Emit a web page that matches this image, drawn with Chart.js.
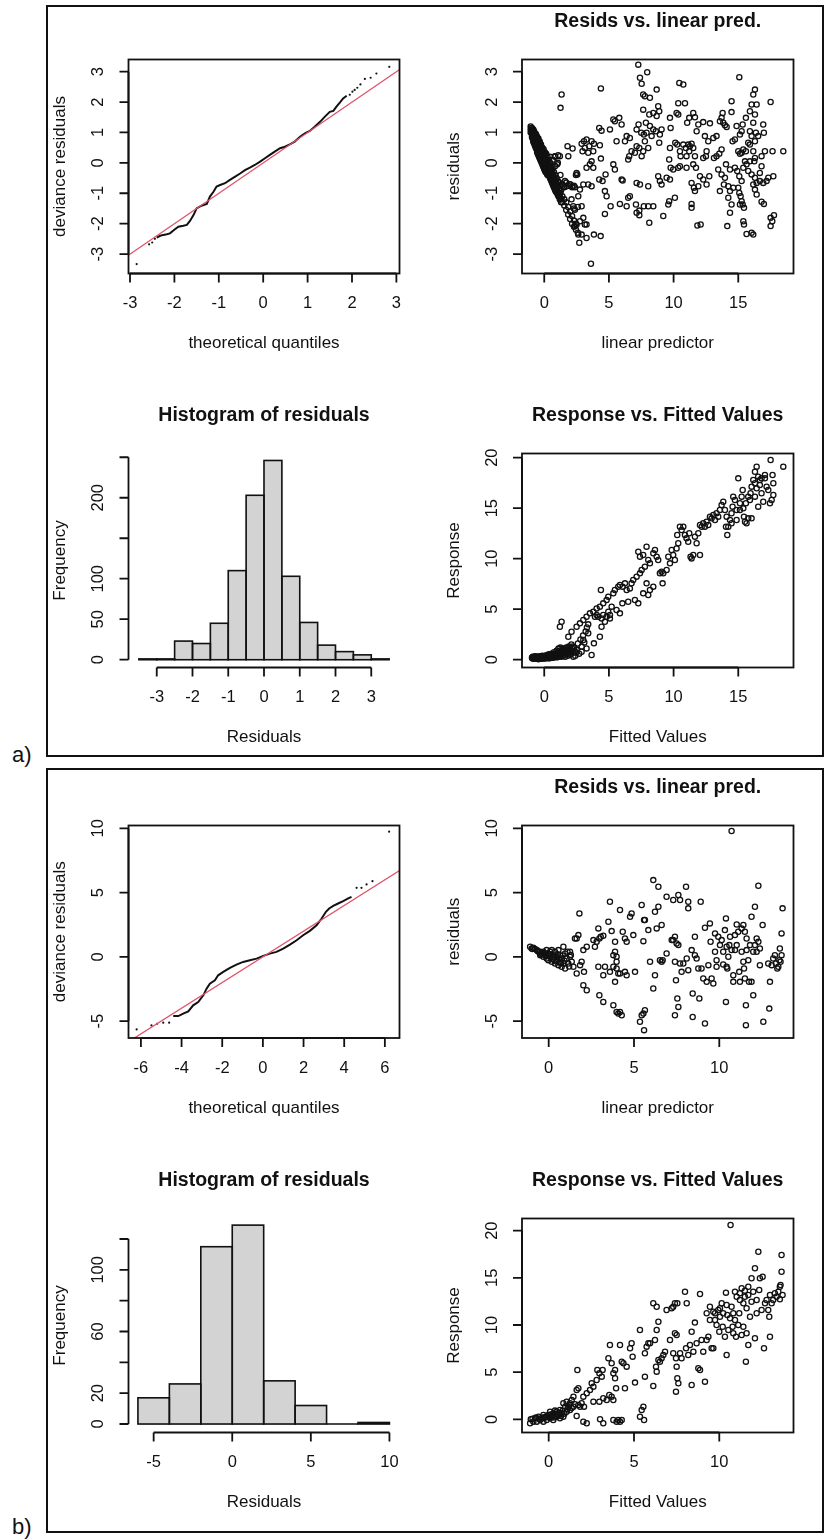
<!DOCTYPE html>
<html>
<head>
<meta charset="utf-8">
<title>gam.check residual plots</title>
<script src="https://cdn.jsdelivr.net/npm/chart.js@4.4.1/dist/chart.umd.min.js"></script>
<style>
  html, body { margin: 0; padding: 0; background: #fff; }
  #page { position: relative; width: 824px; height: 1540px; overflow: hidden; }
  #page canvas { position: absolute; left: 0; top: 0; }
  .frame { position: absolute; border: 2px solid #111; box-sizing: border-box; }
  .tag { position: absolute; font: 22px "Liberation Sans", Arial, sans-serif; color: #111; line-height: 22px; }
</style>
</head>
<body>
<div id="page">
  <div class="frame" style="left:46px; top:5px; width:778px; height:752px;"></div>
  <div class="frame" style="left:46px; top:768px; width:778px; height:765px;"></div>
  <div class="tag" style="left:12px; top:744px;">a)</div>
  <div class="tag" style="left:12px; top:1516px;">b)</div>
  <canvas id="a1" width="824" height="1540"></canvas>
  <canvas id="a2" width="824" height="1540"></canvas>
  <canvas id="a3" width="824" height="1540"></canvas>
  <canvas id="a4" width="824" height="1540"></canvas>
  <canvas id="b1" width="824" height="1540"></canvas>
  <canvas id="b2" width="824" height="1540"></canvas>
  <canvas id="b3" width="824" height="1540"></canvas>
  <canvas id="b4" width="824" height="1540"></canvas>
</div>
<script>
/* ---------- data ---------- */

// a) QQ plot: sorted deviance residuals vs theoretical quantiles
const qqBodyA = [[-2.4,-2.46],[-2.32,-2.4],[-2.25,-2.37],[-2.17,-2.35],[-2.1,-2.32],[-2.01,-2.21],[-1.91,-2.1],[-1.8,-2.07],
  [-1.72,-2.04],[-1.65,-1.91],[-1.57,-1.72],[-1.5,-1.5],[-1.39,-1.41],[-1.27,-1.35],[-1.2,-1.11],[-1.12,-0.95],[-1.05,-0.78],
  [-0.97,-0.73],[-0.86,-0.67],[-0.75,-0.56],[-0.64,-0.46],[-0.52,-0.35],[-0.41,-0.24],[-0.3,-0.16],[-0.19,-0.07],[-0.07,0.04],
  [0.04,0.15],[0.15,0.26],[0.26,0.37],[0.38,0.48],[0.49,0.53],[0.6,0.61],[0.71,0.7],[0.83,0.86],[0.94,0.97],[1.05,1.05],
  [1.16,1.19],[1.28,1.35],[1.39,1.52],[1.5,1.68],[1.58,1.71],[1.65,1.85],[1.73,1.99],[1.8,2.12],[1.88,2.21]];
const qqTailA = [[-2.85,-3.33],[-2.57,-2.68],[-2.5,-2.62],[-2.44,-2.5],[1.95,2.24],[2.01,2.34],[2.06,2.4],[2.12,2.47],
  [2.19,2.58],[2.29,2.76],[2.42,2.8],[2.55,2.94],[2.84,3.16]];
const qqRefA = [[-4, -4], [4, 4]];
const qqXTicksA = [-3, -2, -1, 0, 1, 2, 3];
const qqYTicksA = [-3, -2, -1, 0, 1, 2, 3];

// a) residuals vs linear predictor
const residA = [
  [-1.05,1.2],[-1.05,1.1],[-1.05,1.0],[-0.95,1.15],[-0.95,1.05],[-0.95,0.95],[-0.95,0.85],
  [-0.85,1.1],[-0.85,1.0],[-0.85,0.9],[-0.85,0.8],[-0.85,0.7],[-0.75,1.0],[-0.75,0.9],[-0.75,0.8],[-0.75,0.7],[-0.75,0.6],
  [-0.65,0.95],[-0.65,0.85],[-0.65,0.75],[-0.65,0.6],[-0.65,0.5],[-0.55,0.85],[-0.55,0.7],[-0.55,0.55],[-0.55,0.45],[-0.55,0.35],
  [-0.45,0.8],[-0.45,0.65],[-0.45,0.5],[-0.45,0.35],[-0.45,0.25],[-0.35,0.7],[-0.35,0.55],[-0.35,0.4],[-0.35,0.25],[-0.35,0.15],
  [-0.25,0.6],[-0.25,0.45],[-0.25,0.3],[-0.25,0.15],[-0.25,0.05],[-0.15,0.5],[-0.15,0.35],[-0.15,0.2],[-0.15,0.05],[-0.15,-0.05],
  [-0.05,0.45],[-0.05,0.3],[-0.05,0.15],[-0.05,0.0],[-0.05,-0.15],[0.05,0.35],[0.05,0.2],[0.05,0.05],[0.05,-0.1],[0.05,-0.25],
  [0.15,0.3],[0.15,0.1],[0.15,-0.05],[0.15,-0.2],[0.15,-0.3],[0.25,0.2],[0.25,0.0],[0.25,-0.15],[0.25,-0.3],[0.25,-0.4],
  [0.35,0.1],[0.35,-0.1],[0.35,-0.25],[0.35,-0.4],[0.45,0.2],[0.45,0.0],[0.45,-0.2],[0.45,-0.35],[0.45,-0.5],
  [0.55,-0.1],[0.55,-0.3],[0.55,-0.45],[0.55,-0.6],[0.65,0.1],[0.65,-0.2],[0.65,-0.4],[0.65,-0.55],[0.65,-0.7],
  [0.75,-0.3],[0.75,-0.5],[0.75,-0.65],[0.75,-0.8],[0.85,0.2],[0.85,-0.1],[0.85,-0.4],[0.85,-0.6],[0.85,-0.9],
  [0.95,-0.5],[0.95,-0.7],[0.95,-0.95],[1.05,0.0],[1.05,-0.6],[1.05,-0.8],[1.05,-1.05],[1.15,-0.65],[1.15,-0.9],[1.15,-1.1],
  [1.25,-0.4],[1.25,-0.75],[1.25,-1.0],[1.25,-1.2],[1.4,-0.7],[1.4,-1.1],[1.4,-1.3],[1.55,-0.8],[1.55,-1.2],[1.55,-1.4],
  [1.7,-0.65],[1.7,-1.3],[1.7,-1.55],[1.85,-0.75],[1.85,-1.45],[1.85,-1.7],[2.0,-0.7],[2.0,-1.6],[2.0,-1.85],
  [2.15,-0.8],[2.15,-1.75],[2.15,-2.0],[2.3,-0.75],[2.3,-1.5],[2.3,-1.9],[2.3,-2.1],[2.45,-0.4],[2.45,-2.0],[2.45,-2.2],
  [2.6,-1.45],[2.6,-2.3],
  [-1.0,1.15],[-1.0,1.05],[-0.9,1.1],[-0.9,1.0],[-0.9,0.9],[-0.9,0.8],[-0.8,1.05],[-0.8,0.95],[-0.8,0.85],[-0.8,0.75],[-0.8,0.65],
  [-0.7,0.95],[-0.7,0.85],[-0.7,0.7],[-0.7,0.55],[-0.6,0.9],[-0.6,0.75],[-0.6,0.6],[-0.6,0.45],[-0.5,0.8],[-0.5,0.6],[-0.5,0.45],
  [-0.5,0.3],[-0.4,0.7],[-0.4,0.5],[-0.4,0.35],[-0.4,0.2],[-0.3,0.6],[-0.3,0.4],[-0.3,0.25],[-0.3,0.1],[-0.2,0.5],[-0.2,0.3],
  [-0.2,0.15],[-0.2,0.0],[-0.1,0.4],[-0.1,0.25],[-0.1,0.1],[-0.1,-0.1],[0.0,0.3],[0.0,0.15],[0.0,0.0],[0.0,-0.2],[0.1,0.2],
  [0.1,0.05],[0.1,-0.15],[0.1,-0.3],[0.2,0.1],[0.2,-0.1],[0.2,-0.25],[0.2,-0.35],[0.3,0.0],[0.3,-0.2],[0.3,-0.35],[0.4,-0.1],
  [0.4,-0.3],[0.4,-0.45],[0.5,-0.2],[0.5,-0.4],[0.5,-0.55],[0.6,-0.3],[0.6,-0.5],[0.6,-0.65],[0.7,-0.4],[0.7,-0.6],[0.7,-0.75],
  [0.8,-0.5],[0.8,-0.7],[0.8,-0.85],[0.9,-0.6],[0.9,-0.8],[0.9,-0.95],[1.0,-0.7],[1.0,-0.9],[1.0,-1.0],[1.1,-0.75],[1.1,-1.0],
  [1.1,-1.1],[1.2,-0.85],[1.2,-1.1],[1.2,-1.2],[1.3,-0.9],[1.3,-1.2],[1.3,-1.3],
  [1.26,1.81],[1.34,2.25],[1.08,0.25],[0.82,0.22],[1.0,-0.05],[1.86,0.22],[2.19,0.47],[2.5,-0.33],[2.55,-0.38],[2.89,0.63],
  [3.07,0.71],[3.27,0.77],[2.96,0.38],[3.14,0.49],[3.48,0.55],[3.66,0.71],[3.84,0.63],[3.4,0.33],[3.79,0.38],[3.53,-0.05],
  [3.79,-0.16],[3.66,0.05],[3.27,-0.16],[3.02,-0.71],[3.4,-0.71],[3.66,-0.77],[2.76,-0.88],[2.63,-1.1],[2.89,-1.43],
  [3.02,-1.81],[2.76,-1.92],[3.14,-2.03],[3.27,-2.03],[2.89,-2.36],[3.27,-2.47],[2.71,-2.63],[3.84,-2.36],[4.36,-2.41],
  [3.61,-3.32],[4.38,2.45],[4.25,1.15],[4.43,1.06],[4.3,0.58],[4.38,0.14],[4.25,-0.55],[4.51,-0.6],[4.74,-0.38],[4.69,-0.93],
  [4.82,-1.1],[4.69,-1.68],[5.13,-1.43],[5.08,1.1],[5.34,1.43],[5.46,1.37],[5.8,1.48],[5.98,1.26],[5.34,-0.05],[5.46,-0.22],
  [5.59,0.71],[5.98,-0.55],[6.06,-0.58],[5.85,-1.35],[6.37,-1.43],[6.24,0.71],[6.37,0.88],[6.62,0.82],[6.57,0.22],[6.75,0.38],
  [6.49,0.11],[6.62,-1.1],[6.49,-1.15],[7.09,-1.37],[7.14,-0.66],[7.14,-1.64],[7.35,-1.72],[7.01,0.33],[7.14,0.55],[7.35,0.49],
  [7.14,1.1],[7.29,1.26],[7.5,0.99],[7.7,0.93],[7.27,3.23],[7.4,2.8],[7.53,2.6],[7.96,2.98],[7.65,2.25],[7.78,2.19],[8.17,2.14],
  [8.69,2.41],[7.65,1.75],[8.12,1.59],[8.43,1.64],[8.81,1.86],[8.89,1.7],[8.69,1.54],[7.86,1.32],[8.17,1.21],[8.43,1.1],
  [7.91,0.99],[8.3,0.88],[8.63,1.04],[8.94,0.93],[7.78,0.71],[8.04,0.49],[7.65,0.38],[7.53,0.22],[8.89,0.66],[9.07,1.1],
  [7.7,-1.43],[8.04,-1.43],[8.43,-1.43],[7.35,-1.57],[8.12,-1.97],[7.4,-0.71],[8.04,-0.77],[8.81,-0.44],[8.94,-0.6],[9.07,-0.71],
  [9.2,-1.75],[9.59,-1.37],[9.66,-1.26],[9.46,-0.49],[9.72,-0.55],[9.66,0.11],[9.77,-0.16],[9.97,-0.22],[9.72,0.49],[9.77,1.15],
  [9.72,1.48],[10.1,-1.15],[10.36,-0.16],[10.49,-0.11],[10.36,1.96],[10.23,1.64],[10.36,1.59],[10.44,2.63],[10.75,2.58],
  [10.88,1.96],[10.13,0.66],[10.28,0.6],[10.49,0.38],[10.54,0.22],[10.75,0.6],[10.95,0.49],[11.13,0.6],[11.26,0.55],[11.39,0.63],
  [11.52,0.49],[11.21,0.38],[11.0,0.22],[11.05,1.32],[11.21,1.48],[11.52,1.64],[11.65,1.5],[11.78,1.04],[11.91,1.26],[11.0,-0.16],
  [11.52,-0.05],[11.65,0.22],[11.73,-0.16],[11.39,-0.66],[11.57,-0.82],[11.65,-0.93],[11.91,-0.77],[12.04,-0.44],[12.29,-0.55],
  [12.55,-0.71],[12.76,-0.44],[12.29,0.16],[12.55,0.38],[12.5,0.22],[12.68,0.71],[12.42,0.88],[12.29,1.34],[12.81,1.3],
  [11.39,-1.35],[11.39,-1.48],[11.84,-2.06],[12.09,-2.03],[13.12,0.16],[13.32,0.22],[13.53,0.3],[13.71,0.44],[13.07,0.82],
  [13.32,0.88],[13.58,1.37],[13.71,1.48],[13.84,1.32],[13.97,1.24],[13.79,1.64],[14.1,1.18],[13.45,-0.22],[13.71,-0.38],
  [13.89,-0.71],[13.58,-0.93],[14.05,-0.05],[14.36,-0.22],[13.97,-0.49],[14.23,-0.77],[14.36,-0.93],[14.23,-1.15],[14.61,-0.82],
  [14.48,-1.37],[14.36,-1.64],[14.15,-2.08],[14.48,2.03],[14.48,1.67],[14.56,0.71],[14.74,0.77],[15.08,2.82],[14.87,1.21],
  [15.13,0.93],[15.26,1.04],[15.34,1.26],[15.0,0.38],[15.13,0.3],[15.26,0.33],[15.39,0.44],[14.74,-0.16],[14.92,-0.27],
  [15.08,-0.44],[15.26,-0.6],[15.39,-0.16],[15.52,0.05],[15.64,-0.05],[15.77,-0.27],[15.0,-0.82],[15.08,-0.99],[15.18,-1.1],
  [15.26,-1.26],[15.34,-1.37],[15.44,-1.48],[15.13,-1.37],[15.39,-1.92],[15.44,-2.03],[15.64,-2.34],[16.03,-2.3],[16.16,-2.36],
  [15.59,1.48],[15.9,1.7],[16.03,1.92],[16.16,2.25],[16.29,2.41],[16.42,1.92],[16.29,1.59],[16.16,1.32],[15.9,1.04],[16.03,0.88],
  [16.36,0.99],[16.54,0.88],[16.29,0.71],[15.9,0.6],[16.16,0.38],[16.29,0.16],[15.9,0.05],[16.03,-0.38],[16.29,-0.49],
  [16.42,-0.66],[16.16,-0.71],[16.29,-0.88],[16.42,-1.04],[16.67,-0.33],[16.8,-0.11],[16.8,0.22],[17.06,0.38],[16.93,1.26],
  [16.98,0.99],[16.67,-0.6],[16.93,-0.66],[17.19,-0.6],[16.8,-1.28],[16.98,-1.35],[17.5,2.0],[17.32,-0.49],[17.71,-0.44],
  [17.65,0.38],[18.48,0.38],[17.5,-1.81],[17.63,-1.92],[17.76,-1.72],[17.5,-2.08],[15.59,0.38],[15.77,0.66],[16.24,0.05],
  [1.21,0.22],[1.8,0.55],[1.98,-0.71],[2.19,-0.77],[2.37,-0.8],[1.6,-0.6],[1.73,-0.77],[2.24,-1.43],[2.37,-1.54],[2.11,-1.2],
  [2.5,-2.03],[2.37,-2.08],[2.63,-2.36]
];
const linXTicksA = [0, 5, 10, 15];
const linYTicksA = [-3, -2, -1, 0, 1, 2, 3];

// a) histogram of residuals (bin width 0.5)
const histMidsA = [-3.25, -2.75, -2.25, -1.75, -1.25, -0.75, -0.25, 0.25, 0.75, 1.25, 1.75, 2.25, 2.75, 3.25];
const histCountsA = [1, 1, 23, 20, 45, 110, 203, 246, 103, 46, 18, 10, 6, 1];
const histXTicksA = [-3, -2, -1, 0, 1, 2, 3];
const histYTicksA = [0, 50, 100, 150, 200, 250];
const histYLabelsA = ['0', '50', '100', '', '200', ''];

// a) response vs fitted values
const respA = [
  [-0.95,0.2],[-0.9,0.3],[-0.85,0.1],[-0.8,0.25],[-0.75,0.15],[-0.7,0.35],[-0.65,0.2],[-0.6,0.1],[-0.55,0.3],[-0.5,0.2],
  [-0.45,0.05],[-0.4,0.25],[-0.35,0.35],[-0.3,0.15],[-0.25,0.3],[-0.2,0.1],[-0.15,0.4],[-0.1,0.2],[-0.05,0.3],[0,0.15],
  [0.05,0.35],[0.1,0.25],[0.15,0.45],[0.2,0.2],[0.25,0.4],[0.3,0.3],[0.35,0.55],[0.4,0.15],[0.45,0.45],[0.5,0.3],[0.55,0.6],
  [0.6,0.2],[0.65,0.5],[0.7,0.4],[0.75,0.75],[0.8,0.3],[0.85,0.6],[0.9,0.45],[0.95,0.9],[1.0,0.35],[1.05,0.7],[1.1,1.1],
  [1.15,0.5],[1.2,0.85],[1.25,1.2],[1.3,0.4],[1.35,0.95],[1.4,0.65],[1.5,1.05],[1.55,0.5],[1.6,0.8],[1.7,1.2],[1.75,0.6],
  [1.8,0.9],[1.9,1.3],[2.0,0.5],[2.05,0.95],[2.1,1.5],[2.2,0.8],[2.3,1.2],[2.4,0.4],[2.5,1.0],[2.6,1.6],[2.7,0.6],[2.8,2.0],
  [2.9,1.3],[3.0,2.4],[3.1,1.7],[3.2,2.8],[3.3,3.2],[3.4,3.5],
  [-0.92,0.15],[-0.88,0.22],[-0.82,0.18],[-0.78,0.3],[-0.72,0.12],[-0.68,0.25],[-0.62,0.3],[-0.58,0.18],[-0.52,0.12],[-0.48,0.28],
  [-0.42,0.2],[-0.38,0.1],[-0.32,0.3],[-0.28,0.22],[-0.22,0.15],[-0.18,0.32],[-0.12,0.12],[-0.08,0.25],[-0.02,0.35],[0.02,0.2],
  [0.08,0.12],[0.12,0.3],[0.18,0.22],[0.22,0.35],[0.28,0.15],[0.32,0.45],[0.38,0.25],[0.42,0.35],[0.48,0.18],[0.52,0.45],
  [0.58,0.3],[0.62,0.4],[0.68,0.2],[0.72,0.55],[0.78,0.35],[0.82,0.45],[0.88,0.25],[0.92,0.65],[0.98,0.5],[1.02,0.25],
  [1.08,0.55],[1.12,0.8],[1.18,0.35],[1.22,0.6],[1.28,0.9],[1.32,0.3],[1.38,0.75],[1.42,1.1],[1.48,0.4],[1.58,0.9],[1.62,0.3],
  [1.68,0.7],[1.78,1.0],[1.82,0.4],[1.92,0.75],[1.98,1.1],[2.08,0.6],[2.18,1.3],[2.25,0.3],[2.35,0.9],[2.45,0.7],
  [1.86,2.28],[2.11,2.77],[2.5,3.27],[2.76,3.6],[3.02,3.93],[3.27,4.26],[3.53,4.59],[3.79,4.75],[4.05,5.08],[4.3,5.25],
  [4.56,5.58],[4.38,6.9],[4.82,5.9],[4.95,6.24],[5.34,6.57],[5.46,6.9],[5.72,7.23],[5.85,7.39],[6.06,7.23],[6.24,7.56],
  [6.37,6.9],[6.62,7.06],[6.75,7.56],[6.88,7.89],[7.14,8.22],[7.4,8.55],[7.27,10.69],[7.4,10.2],[7.65,10.36],[7.91,11.19],
  [8.04,9.87],[8.17,9.54],[7.78,9.21],[7.53,8.88],[8.43,10.53],[8.56,10.86],[8.69,10.2],[8.81,9.87],[7.65,6.57],[8.04,6.4],
  [8.17,6.9],[7.91,7.56],[8.43,7.23],[7.27,5.58],[7.01,5.91],[6.49,5.74],[5.85,4.59],[5.59,4.92],[6.04,5.58],[5.21,5.25],
  [5.08,4.42],[4.69,3.76],[4.43,3.27],[4.3,2.28],[3.84,1.62],[3.66,0.46],[3.27,1.12],[2.89,0.79],[3.02,1.95],[3.4,2.61],
  [1.21,3.27],[1.34,3.76],[3.92,4.26],[4.05,4.42],[4.17,4.26],[4.43,4.09],[4.82,4.26],[5.08,4.09],[4.56,4.42],[4.95,4.75],
  [8.94,8.55],[9.07,8.71],[9.2,8.55],[9.15,7.56],[9.46,8.88],[9.72,9.54],[9.59,10.2],[9.85,10.86],[9.97,10.36],[10.1,9.87],
  [10.23,11.02],[10.36,11.52],[10.28,12.34],[10.49,13.17],[10.62,12.84],[10.75,13.17],[10.88,12.34],[11.0,12.01],[11.13,11.68],
  [11.21,12.51],[11.31,10.2],[11.39,10.03],[11.52,10.36],[12.04,10.36],[11.78,11.52],[11.65,12.18],[11.91,12.51],[12.04,13.33],
  [12.17,13.17],[12.29,13.5],[12.42,13.17],[12.55,13.66],[12.68,13.33],[12.81,14.16],[12.94,13.99],[13.07,14.32],[13.2,13.83],
  [13.32,14.49],[13.45,14.16],[13.58,14.82],[13.71,15.31],[13.84,15.64],[13.97,14.82],[14.1,14.16],[14.15,12.34],[14.23,13.17],
  [14.36,13.83],[14.48,14.49],[14.56,15.15],[14.61,16.14],[14.74,15.81],[14.87,14.82],[15.0,17.95],[15.13,15.48],[15.26,16.14],
  [15.34,16.8],[15.39,14.98],[15.44,14.16],[15.52,13.66],[15.64,13.5],[15.77,13.99],[15.9,15.81],[15.95,16.47],[16.03,17.13],
  [16.16,17.79],[16.29,18.61],[16.42,19.11],[16.54,18.12],[16.67,17.29],[16.8,16.47],[16.93,15.64],[16.03,13.99],[16.54,15.15],
  [16.29,16.14],[16.8,17.95],[17.06,18.28],[17.5,19.77],[17.65,18.28],[17.71,17.46],[17.71,16.3],[17.58,15.81],[17.45,15.48],
  [18.48,19.11],[17.19,17.13],[15.77,16.14],[15.59,15.48],[15.13,14.82],[14.87,13.83],[14.48,13.5],[14.05,13.17],[16.29,17.46],
  [16.42,16.96],[16.67,17.79],[17.06,17.95],[17.32,16.8]
];
const fitXTicksA = [0, 5, 10, 15];
const fitYTicksA = [0, 5, 10, 15, 20];

// b) QQ plot
const qqBodyB = [[-4.41,-4.61],[-4.16,-4.61],[-3.92,-4.43],[-3.67,-4.25],[-3.43,-3.78],[-3.18,-3.52],[-2.93,-3.0],[-2.77,-2.48],
  [-2.61,-2.09],[-2.36,-1.83],[-2.2,-1.44],[-1.95,-1.18],[-1.62,-0.87],[-1.3,-0.61],[-0.97,-0.4],[-0.64,-0.27],[-0.31,-0.14],
  [0.02,0.07],[0.34,0.25],[0.67,0.38],[1.0,0.64],[1.33,0.95],[1.66,1.29],[1.98,1.68],[2.31,2.02],[2.64,2.46],[2.89,2.98],
  [3.1,3.5],[3.26,3.76],[3.46,3.96],[3.7,4.15],[3.95,4.33],[4.2,4.54],[4.36,4.67]];
const qqTailB = [[-6.21,-5.65],[-5.48,-5.34],[-5.2,-5.21],[-4.9,-5.13],[-4.61,-5.13],[4.61,5.37],[4.85,5.37],[5.1,5.63],
  [5.39,5.89],[6.21,9.74]];
const qqRefB = [[-8, -8], [8, 8]];
const qqXTicksB = [-6, -4, -2, 0, 2, 4, 6];
const qqYTicksB = [-5, 0, 5, 10];

// b) residuals vs linear predictor
const residB = [
  [-1.09,0.78],[-1.0,0.65],[-0.9,0.7],[-0.8,0.6],[-0.7,0.52],[-0.6,0.39],[-0.5,0.39],[-0.5,0.13],[-0.41,0.26],[-0.31,0.39],
  [-0.31,0],[-0.21,0.13],[-0.12,0.52],[-0.12,-0.13],[-0.02,0.26],[-0.02,-0.26],[0.08,0.39],[0.08,0],[0.18,-0.39],[0.18,0.52],
  [0.27,0.13],[0.27,-0.13],[0.37,0.39],[0.37,-0.52],[0.47,0],[0.47,-0.26],[0.57,0.52],[0.57,-0.65],[0.66,0.13],[0.66,-0.39],
  [0.76,-0.13],[0.76,-0.78],[0.86,0.78],[0.86,-0.52],[0.96,0.26],[0.96,-0.91],[1.05,-0.13],[1.15,-0.52],[1.25,0],[1.35,-0.39],
  [1.25,0.39],[1.45,-0.78],[1.54,1.43],[1.64,1.43],[1.74,1.69],[1.8,3.38],[1.64,-1.3],[1.84,-0.65],[1.93,-0.39],[2.03,0.52],
  [2.07,-1.17],[2.23,0.78],[2.03,-2.21],[2.23,-2.6],[2.62,1.3],[2.71,0.78],[2.81,1.17],[2.91,2.21],[2.97,1.43],[3.05,1.56],
  [3.2,1.64],[2.91,-0.78],[3.3,-0.78],[3.2,-1.43],[2.97,-2.99],[3.2,-3.51],[3.5,2.73],[3.59,4.29],[3.69,2.0],[3.79,0.13],
  [3.89,1.17],[3.89,0.39],[3.98,0],[3.98,-0.39],[3.79,-0.78],[3.59,-1.17],[3.89,-1.95],[3.98,-0.91],[4.08,-1.3],[3.79,-3.77],
  [3.98,-4.29],[4.08,-4.42],[4.18,-4.29],[4.28,-4.55],[4.18,3.64],[4.34,1.95],[4.47,1.43],[4.57,1.17],[4.18,-1.3],[4.47,-1.17],
  [4.57,-1.43],[4.77,3.12],[4.86,3.38],[4.96,1.69],[5.06,-1.17],[5.35,-5.06],[5.45,-4.55],[5.55,-4.42],[5.64,-4.16],[5.59,-5.71],
  [5.45,4.03],[5.55,1.22],[5.59,2.86],[5.64,2.86],[5.84,2.08],[5.94,-0.39],[6.13,5.97],[6.43,5.45],[6.23,3.51],[6.43,3.9],
  [6.33,2.21],[6.23,-1.43],[6.13,-2.47],[6.52,-0.26],[6.62,2.47],[6.68,-0.26],[6.62,-0.39],[6.91,0.26],[6.91,4.68],[7.21,1.3],
  [7.3,1.3],[7.4,1.56],[7.4,-0.39],[7.5,1.04],[7.6,0.91],[7.46,-1.82],[7.54,-3.25],[7.6,-3.9],[7.4,-4.55],[7.3,4.42],[7.6,4.81],
  [7.7,4.42],[7.7,-0.52],[7.79,-1.17],[7.89,-0.52],[8.05,5.45],[8.18,4.29],[8.18,3.77],[8.09,-0.13],[8.18,-1.04],[8.38,0.52],
  [8.44,-2.86],[8.44,-4.68],[8.57,1.56],[8.57,0.13],[8.67,-0.13],[8.77,-0.91],[8.83,-3.25],[8.91,4.29],[8.96,-0.91],[9.06,-1.69],
  [9.16,2.26],[9.16,-5.19],[9.26,-1.95],[9.36,-0.65],[9.45,2.6],[9.49,1.17],[9.55,-1.69],[9.65,-2.08],[9.75,1.82],[9.75,0.39],
  [9.84,-0.26],[9.84,-0.78],[9.94,1.56],[10.04,0.91],[10.14,1.3],[10.23,0.39],[10.23,-0.6],[10.33,2.08],[10.39,2.99],[10.43,0.78],
  [10.43,-0.78],[10.47,-0.91],[10.39,-3.51],[10.53,0],[10.59,0.91],[10.63,1.56],[10.72,9.79],[10.72,0.52],[10.82,-1.43],
  [10.82,-1.95],[10.92,1.69],[10.92,0.52],[11.02,2.52],[11.02,0.91],[11.11,1.95],[11.17,-1.17],[11.21,-1.95],[11.31,2.21],
  [11.31,0.39],[11.41,2.47],[11.41,-0.39],[11.45,-0.91],[11.5,1.95],[11.5,-1.69],[11.56,-3.77],[11.56,-5.32],[11.6,0.52],
  [11.6,1.43],[11.7,-0.26],[11.74,-1.95],[11.8,0.91],[11.89,3.12],[11.89,-1.95],[11.99,0.39],[11.99,-2.99],[12.09,3.9],
  [12.09,0.91],[12.19,1.43],[12.19,0.39],[12.29,5.53],[12.29,1.17],[12.38,0.65],[12.38,-0.65],[12.54,2.47],[12.58,-5.06],
  [12.87,-0.52],[12.93,-4.03],[12.97,-1.95],[13.07,-0.65],[13.16,-0.13],[13.26,0.13],[13.32,-0.52],[13.4,-0.91],[13.46,-0.78],
  [13.55,0.65],[13.59,-0.39],[13.65,1.82],[13.71,3.77],[13.65,0.13],[13.52,-0.26],
  [-0.95,0.6],[-0.65,0.45],[-0.45,0.2],[-0.25,0.3],[-0.15,0.05],[0.0,0.1],[0.12,0.2],[0.22,-0.2],[0.32,0.0],[0.42,-0.35],
  [0.52,0.2],[0.62,-0.15],[0.72,-0.5],[0.82,0.1],[0.92,-0.3],[1.1,0.4],[1.2,-0.75],[1.3,0.15]
];
const linXTicksB = [0, 5, 10];
const linYTicksB = [-5, 0, 5, 10];

// b) histogram of residuals (bin width 2)
const histMidsB = [-5, -3, -1, 1, 3, 5, 7, 9];
const histCountsB = [17, 26, 115, 129, 28, 12, 0, 1];
const histXTicksB = [-5, 0, 5, 10];
const histYTicksB = [0, 20, 40, 60, 80, 100, 120];
const histYLabelsB = ['0', '20', '', '60', '', '100', ''];

// b) response vs fitted values
const respB = [
  [-1.09,-0.42],[-1.05,0],[-0.9,-0.25],[-0.8,0.1],[-0.7,-0.25],[-0.6,0.28],[-0.5,-0.07],[-0.41,0.1],[-0.31,0.46],[-0.31,-0.25],
  [-0.21,0.21],[-0.12,-0.07],[-0.02,0.46],[0.08,0.1],[0.08,0.81],[0.18,0.28],[0.27,0.64],[0.27,-0.07],[0.37,0.92],[0.47,0.28],
  [0.47,0.81],[0.57,0.46],[0.66,0.1],[0.66,0.99],[0.76,0.64],[0.86,1.7],[0.86,0.28],[0.96,1.34],[1.05,0.81],[1.05,1.87],
  [1.15,1.34],[1.25,0.99],[1.25,1.7],[1.35,2.05],[1.45,1.34],[1.45,2.4],[1.64,3.11],[1.74,3.29],[1.68,5.23],[1.64,0.35],
  [1.74,1.52],[1.84,1.34],[1.93,1.7],[2.03,2.4],[2.03,-0.25],[2.23,-0.42],[2.07,1.34],[2.23,2.76],[2.42,3.11],[2.52,3.82],
  [2.62,3.46],[2.62,1.87],[2.81,4.17],[2.85,5.23],[2.97,4.88],[2.97,1.87],[3.01,0],[3.11,4.52],[3.16,5.23],[3.2,2.23],
  [3.2,-0.42],[3.4,2.05],[3.5,6.47],[3.55,2.58],[3.59,7.88],[3.69,5.94],[3.69,2.4],[3.79,4.88],[3.79,2.05],[3.89,5.23],
  [3.89,4.35],[3.95,3.29],[3.79,-0.07],[3.98,-0.25],[4.08,-0.07],[4.18,-0.25],[4.28,-0.07],[4.18,7.88],[4.28,6.11],[4.38,5.94],
  [4.47,3.29],[4.57,5.58],[4.77,7.53],[4.86,8.06],[4.92,6.64],[5.06,3.89],[5.35,9.47],[5.35,0.28],[5.45,0.99],[5.55,1.34],
  [5.59,-0.07],[5.64,4.52],[5.64,7.0],[5.74,7.7],[5.84,8.06],[5.94,8.06],[6.13,3.53],[6.13,12.3],[6.33,11.94],[6.23,8.41],
  [6.33,9.47],[6.43,10.35],[6.29,5.58],[6.33,5.05],[6.43,6.29],[6.52,6.11],[6.62,6.47],[6.72,6.82],[6.82,7.17],[6.91,11.59],
  [7.11,8.41],[7.21,11.77],[7.3,11.94],[7.4,12.3],[7.4,9.12],[7.5,8.94],[7.54,12.3],[7.3,7.0],[7.46,6.47],[7.5,5.58],[7.54,4.35],
  [7.6,3.82],[7.46,2.93],[7.7,7.0],[7.79,6.47],[7.99,13.53],[8.05,7.53],[8.09,12.3],[8.18,6.82],[8.28,7.88],[8.38,9.29],
  [8.38,3.64],[8.48,7.17],[8.57,10.25],[8.67,8.06],[8.77,5.41],[8.87,5.23],[8.87,13.29],[8.96,8.41],[9.06,7.17],[9.16,3.99],
  [9.26,11.24],[9.36,8.76],[9.45,11.94],[9.55,7.53],[9.65,7.53],[9.75,10.53],[9.75,11.24],[9.84,10.0],[9.94,11.59],[10.0,9.29],
  [10.04,10.88],[10.14,12.3],[10.2,9.82],[10.23,11.24],[10.33,8.76],[10.39,13.43],[10.43,6.82],[10.47,11.06],[10.53,9.47],
  [10.63,10.71],[10.66,20.6],[10.72,11.94],[10.78,9.82],[10.82,9.12],[10.92,13.53],[10.92,10.53],[10.98,8.76],[11.02,13.0],
  [11.11,10.0],[11.17,11.24],[11.21,13.36],[11.31,13.89],[11.31,8.94],[11.41,12.3],[11.41,9.82],[11.5,13.0],[11.56,6.11],
  [11.6,11.77],[11.6,9.12],[11.7,14.06],[11.7,7.88],[11.8,10.88],[11.89,12.47],[11.89,14.95],[11.99,13.53],[12.09,8.59],
  [12.09,16.01],[12.19,11.24],[12.19,12.65],[12.29,17.77],[12.34,13.71],[12.38,14.95],[12.48,11.59],[12.54,15.12],[12.62,7.53],
  [12.68,12.3],[12.77,12.65],[12.87,11.59],[12.97,13.18],[12.93,10.88],[12.97,8.76],[13.07,12.3],[13.16,12.65],[13.26,13.36],
  [13.36,13.0],[13.46,13.53],[13.55,14.06],[13.59,14.24],[13.65,15.65],[13.65,17.42],[13.71,13.18],[13.55,12.72],[11.21,12.65],
  [11.5,13.64],[11.7,13.18],[10.82,11.24],[10.43,12.12],[10.04,11.77],[9.65,11.41],[9.45,10.53],[9.26,8.41],
  [-0.95,0.05],[-0.75,0.2],[-0.55,0.05],[-0.35,0.2],[-0.15,0.3],[0.02,0.25],[0.12,0.5],[0.22,0.4],[0.32,0.2],[0.42,0.6],
  [0.52,0.45],[0.62,0.7],[0.72,0.35],[0.82,0.9],[0.92,0.6],[1.1,1.1],[1.2,1.5],[1.35,1.2],[1.55,1.6]
];
const fitXTicksB = [0, 5, 10];
const fitYTicksB = [0, 5, 10, 15, 20];

/* ---------- drawing ---------- */
const FONT = '"Liberation Sans", Arial, Helvetica, sans-serif';
const INK = '#111';
const PAGE_W = 824, PAGE_H = 1540;

// R style axes, box, titles; drawn on the chart's own scales
function rPlot(spec) {
    return {
        id: 'rPlot',
        afterDatasetsDraw(chart) {
            const { ctx, chartArea: a, scales: { x, y } } = chart;
            const T = 9;
            ctx.save();
            ctx.strokeStyle = INK;
            ctx.fillStyle = INK;
            ctx.lineWidth = 1.8;
            if (spec.box) ctx.strokeRect(a.left, a.top, a.right - a.left, a.bottom - a.top);

            // histogram rectangles outlined like rect() in R, zero and tiny bins included
            if (spec.bars) {
                ctx.lineWidth = 1.6;
                chart.getDatasetMeta(0).data.forEach(b => {
                    const p = b.getProps(['x', 'y', 'base', 'width'], true);
                    ctx.strokeRect(p.x - p.width / 2, Math.min(p.y, p.base), p.width, Math.abs(p.base - p.y));
                });
                ctx.lineWidth = 1.8;
            }

            const xp = spec.xTicks.map(v => x.getPixelForValue(v));
            const yp = spec.yTicks.map(v => y.getPixelForValue(v));
            ctx.beginPath();
            ctx.moveTo(xp[0], a.bottom);
            ctx.lineTo(xp[xp.length - 1], a.bottom);
            xp.forEach(p => { ctx.moveTo(p, a.bottom); ctx.lineTo(p, a.bottom + T); });
            ctx.moveTo(a.left, yp[0]);
            ctx.lineTo(a.left, yp[yp.length - 1]);
            yp.forEach(p => { ctx.moveTo(a.left, p); ctx.lineTo(a.left - T, p); });
            ctx.stroke();

            ctx.font = '16.5px ' + FONT;
            ctx.textAlign = 'center';
            ctx.textBaseline = 'middle';
            const xl = spec.xLabels || spec.xTicks.map(String);
            const yl = spec.yLabels || spec.yTicks.map(String);
            xp.forEach((p, i) => ctx.fillText(xl[i], p, a.bottom + 30));
            yp.forEach((p, i) => {
                ctx.save();
                ctx.translate(a.left - 30, p);
                ctx.rotate(-Math.PI / 2);
                ctx.fillText(yl[i], 0, 0);
                ctx.restore();
            });

            const cx = (a.left + a.right) / 2, cy = (a.top + a.bottom) / 2;
            ctx.font = '17px ' + FONT;
            ctx.fillText(spec.xTitle, cx, a.bottom + 70);
            ctx.save();
            ctx.translate(a.left - 68, cy);
            ctx.rotate(-Math.PI / 2);
            ctx.fillText(spec.yTitle, 0, 0);
            ctx.restore();
            if (spec.main) {
                ctx.font = 'bold 19.5px ' + FONT;
                ctx.fillText(spec.main, cx, a.top - 38);
            }
            ctx.restore();
        }
    };
}

function pts(arr) { return arr.map(p => ({ x: p[0], y: p[1] })); }

function baseOptions(box, xr, yr) {
    return {
        responsive: false,
        animation: false,
        events: [],
        layout: { padding: { left: box[0], right: PAGE_W - box[1], top: box[2], bottom: PAGE_H - box[3] } },
        plugins: { legend: { display: false }, tooltip: { enabled: false }, title: { display: false } },
        scales: {
            x: { type: 'linear', display: false, offset: false, min: xr[0], max: xr[1], bounds: 'data' },
            y: { type: 'linear', display: false, offset: false, min: yr[0], max: yr[1], bounds: 'data' }
        }
    };
}

const circle = {
    type: 'scatter', pointStyle: 'circle', pointRadius: 2.6, pointBorderWidth: 1.3,
    pointBorderColor: INK, pointBackgroundColor: 'rgba(0,0,0,0)', showLine: false
};

function qqChart(id, box, xr, yr, body, tail, ref, spec) {
    new Chart(document.getElementById(id), {
        type: 'scatter',
        data: {
            datasets: [
                { data: pts(ref), showLine: true, borderColor: '#df536b', borderWidth: 1.3, pointRadius: 0, order: 0 },
                { data: pts(body), showLine: true, borderColor: INK, borderWidth: 2, pointRadius: 0, order: 1 },
                { data: pts(tail), showLine: false, pointRadius: 1.1, pointBorderWidth: 0, pointBackgroundColor: INK, order: 2 }
            ]
        },
        options: baseOptions(box, xr, yr),
        plugins: [rPlot(spec)]
    });
}

function scatterChart(id, box, xr, yr, data, spec) {
    new Chart(document.getElementById(id), {
        type: 'scatter',
        data: { datasets: [Object.assign({ data: pts(data) }, circle)] },
        options: baseOptions(box, xr, yr),
        plugins: [rPlot(spec)]
    });
}

function histChart(id, box, xr, yr, mids, counts, spec) {
    new Chart(document.getElementById(id), {
        type: 'bar',
        data: {
            datasets: [{
                data: mids.map((m, i) => ({ x: m, y: counts[i] })),
                backgroundColor: '#d3d3d3', borderWidth: 0,
                barThickness: 'flex', barPercentage: 1, categoryPercentage: 1
            }]
        },
        options: baseOptions(box, xr, yr),
        plugins: [rPlot(Object.assign({ bars: true }, spec))]
    });
}

// a)
qqChart('a1', [128.5, 399.5, 59.5, 273.5], [-3.034, 3.07], [-3.64, 3.40], qqBodyA, qqTailA, qqRefA,
    { box: true, xTicks: qqXTicksA, yTicks: qqYTicksA, xTitle: 'theoretical quantiles', yTitle: 'deviance residuals' });
scatterChart('a2', [522, 793.5, 59.5, 273.5], [-1.72, 19.27], [-3.64, 3.40], residA,
    { box: true, xTicks: linXTicksA, yTicks: linYTicksA, main: 'Resids vs. linear pred.', xTitle: 'linear predictor', yTitle: 'residuals' });
histChart('a3', [128.5, 399.5, 453.5, 667.5], [-3.79, 3.79], [-9.6, 254.6], histMidsA, histCountsA,
    { box: false, xTicks: histXTicksA, yTicks: histYTicksA, yLabels: histYLabelsA, main: 'Histogram of residuals', xTitle: 'Residuals', yTitle: 'Frequency' });
scatterChart('a4', [522, 793.5, 453.5, 667.5], [-1.72, 19.27], [-0.77, 20.41], respA,
    { box: true, xTicks: fitXTicksA, yTicks: fitYTicksA, main: 'Response vs. Fitted Values', xTitle: 'Fitted Values', yTitle: 'Response' });

// b)
qqChart('b1', [128.5, 399.5, 825.5, 1038], [-6.61, 6.72], [-6.32, 10.22], qqBodyB, qqTailB, qqRefB,
    { box: true, xTicks: qqXTicksB, yTicks: qqYTicksB, xTitle: 'theoretical quantiles', yTitle: 'deviance residuals' });
scatterChart('b2', [522, 793.5, 825.5, 1038], [-1.565, 14.35], [-6.32, 10.22], residB,
    { box: true, xTicks: linXTicksB, yTicks: linYTicksB, main: 'Resids vs. linear pred.', xTitle: 'linear predictor', yTitle: 'residuals' });
histChart('b3', [128.5, 399.5, 1218.5, 1432.5], [-6.6, 10.64], [-5.5, 133.3], histMidsB, histCountsB,
    { box: false, xTicks: histXTicksB, yTicks: histYTicksB, yLabels: histYLabelsB, main: 'Histogram of residuals', xTitle: 'Residuals', yTitle: 'Frequency' });
scatterChart('b4', [522, 793.5, 1218.5, 1432.5], [-1.565, 14.35], [-1.4, 21.29], respB,
    { box: true, xTicks: fitXTicksB, yTicks: fitYTicksB, main: 'Response vs. Fitted Values', xTitle: 'Fitted Values', yTitle: 'Response' });
</script>
</body>
</html>
